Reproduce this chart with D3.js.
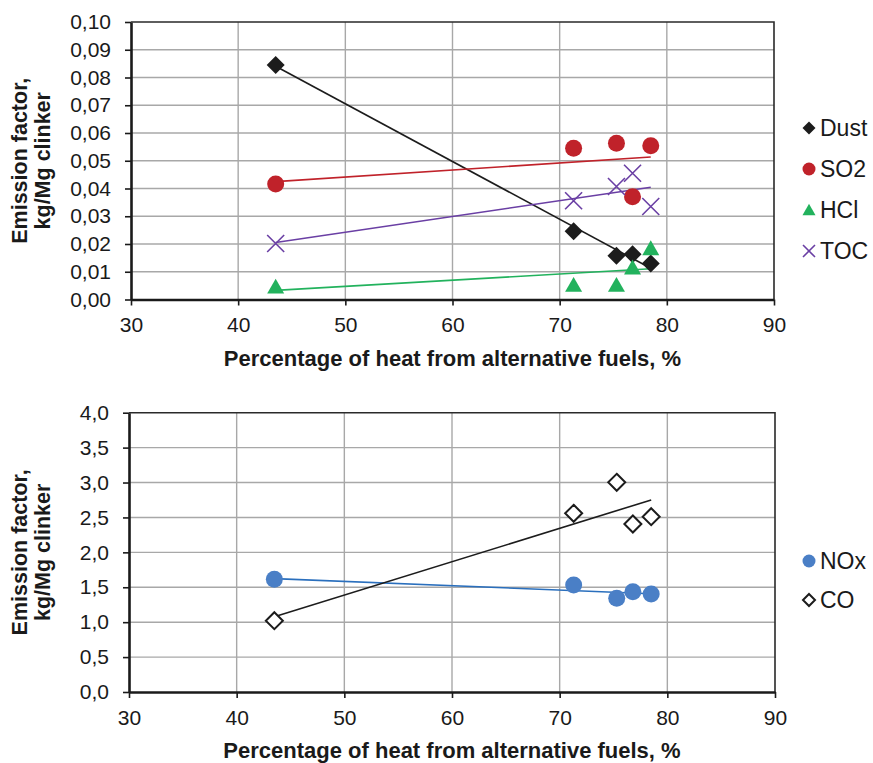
<!DOCTYPE html>
<html>
<head>
<meta charset="utf-8">
<script src="https://cdn.jsdelivr.net/npm/d3@7"></script>
<style>
  body { margin: 0; background: #fff; }
  text { font-family: "Liberation Sans", Arial, sans-serif; fill: #1a1a1a; }
</style>
</head>
<body>
<script>
// share of heat from alternative fuels, % (same five plants in both panels)
var afShare = [43.5, 71.3, 75.3, 76.8, 78.5];

// top panel, kg/Mg clinker
var dust = [0.0845, 0.0246, 0.0158, 0.0163, 0.0130];
var so2 = [0.0416, 0.0545, 0.0563, 0.0370, 0.0554];
var hcl = [0.0046, 0.0052, 0.0052, 0.0115, 0.0184];
var toc = [0.0202, 0.0356, 0.0407, 0.0455, 0.0335];

// bottom panel, kg/Mg clinker
var nox = [1.614, 1.532, 1.342, 1.437, 1.403];
var co = [1.021, 2.559, 3.003, 2.406, 2.511];

// ticks
var xTicks = [30, 40, 50, 60, 70, 80, 90];
var yTicksTop = [0, 0.01, 0.02, 0.03, 0.04, 0.05, 0.06, 0.07, 0.08, 0.09, 0.10];
var yTicksBottom = [0, 0.5, 1, 1.5, 2, 2.5, 3, 3.5, 4];

var xTitle = "Percentage of heat from alternative fuels, %";
var yTitle = ["Emission factor,", "kg/Mg clinker"];

var locale = d3.formatLocale({decimal: ",", thousands: ".", grouping: [3], currency: ["", ""]});

var svg = d3.select("body").append("svg")
  .attr("width", 873)
  .attr("height", 763);

svg.append("rect").attr("width", 873).attr("height", 763).attr("fill", "#fff");

// marker shapes, s = half size
function shape(type, s) {
  if (type == "diamond") return "M0," + (-s) + "L" + s + ",0L0," + s + "L" + (-s) + ",0Z";
  if (type == "circle") return "M" + (-s) + ",0A" + s + "," + s + " 0 1,0 " + s + ",0A" + s + "," + s + " 0 1,0 " + (-s) + ",0Z";
  if (type == "triangle") return "M0," + (-s * 0.95) + "L" + s + "," + (s * 0.8) + "L" + (-s) + "," + (s * 0.8) + "Z";
  if (type == "cross") return "M" + (-s) + "," + (-s) + "L" + s + "," + s + "M" + (-s) + "," + s + "L" + s + "," + (-s);
}

function styleMarker(sel, d) {
  if (d.type == "cross") {
    sel.attr("fill", "none").attr("stroke", d.color).attr("stroke-width", 1.6);
  } else if (d.open) {
    sel.attr("fill", "#fff").attr("stroke", d.color).attr("stroke-width", 2);
  } else {
    sel.attr("fill", d.color).attr("stroke", "none");
  }
}

// least squares fit, drawn from min x to max x like a spreadsheet trendline
function trend(xs, ys) {
  var mx = d3.mean(xs), my = d3.mean(ys);
  var sxy = d3.sum(xs, function(x, i) { return (x - mx) * (ys[i] - my); });
  var sxx = d3.sum(xs, function(x) { return (x - mx) * (x - mx); });
  var b = sxy / sxx, a = my - b * mx;
  var x0 = d3.min(xs), x1 = d3.max(xs);
  return [[x0, a + b * x0], [x1, a + b * x1]];
}

function panel(cfg) {
  var x = d3.scaleLinear().domain([30, 90]).range([cfg.left, cfg.right]);
  var y = d3.scaleLinear().domain(cfg.yDomain).range([cfg.bottom, cfg.top]);
  var g = svg.append("g");

  // grid
  g.selectAll(".hgrid")
    .data(cfg.yTicks.slice(1, -1))
    .enter().append("line")
    .attr("x1", cfg.left).attr("x2", cfg.right)
    .attr("y1", function(d) { return y(d); }).attr("y2", function(d) { return y(d); })
    .attr("stroke", "#a8a8a8").attr("stroke-width", 1.4);

  g.selectAll(".vgrid")
    .data(xTicks.slice(1, -1))
    .enter().append("line")
    .attr("y1", cfg.top).attr("y2", cfg.bottom)
    .attr("x1", function(d) { return x(d); }).attr("x2", function(d) { return x(d); })
    .attr("stroke", "#a8a8a8").attr("stroke-width", 1.4);

  // top and right border
  g.append("path")
    .attr("d", "M" + cfg.left + "," + cfg.top + "H" + cfg.right + "V" + cfg.bottom)
    .attr("fill", "none").attr("stroke", "#2a2a2a").attr("stroke-width", 1.6);

  // axes
  var xAxis = d3.axisBottom(x).tickValues(xTicks).tickSize(6).tickPadding(12).tickSizeOuter(0);
  var yAxis = d3.axisLeft(y).tickValues(cfg.yTicks).tickSize(6).tickPadding(14).tickSizeOuter(0)
    .tickFormat(locale.format(cfg.fmt));

  var xa = g.append("g").attr("transform", "translate(0," + cfg.bottom + ")").call(xAxis);
  var ya = g.append("g").attr("transform", "translate(" + cfg.left + ",0)").call(yAxis);

  [xa, ya].forEach(function(a) {
    a.select(".domain").attr("stroke", "#1a1a1a").attr("stroke-width", 2.6);
    a.selectAll(".tick line").attr("stroke", "#1a1a1a").attr("stroke-width", 1.6);
    a.selectAll(".tick text").attr("fill", "#1a1a1a")
      .style("font-family", "'Liberation Sans', Arial, sans-serif").style("font-size", "21px");
  });

  // x title
  g.append("text")
    .attr("x", (cfg.left + cfg.right) / 2)
    .attr("y", cfg.bottom + 66)
    .attr("text-anchor", "middle")
    .style("font-weight", "bold").style("font-size", "22px")
    .text(xTitle);

  // y title
  var cy = (cfg.top + cfg.bottom) / 2;
  yTitle.forEach(function(t, i) {
    g.append("text")
      .attr("transform", "translate(" + (27 + i * 23) + "," + cy + ") rotate(-90)")
      .attr("text-anchor", "middle")
      .style("font-weight", "bold").style("font-size", "21.5px")
      .text(t);
  });

  // trendlines
  cfg.series.forEach(function(s) {
    var t = trend(afShare, s.values);
    g.append("line")
      .attr("x1", x(t[0][0])).attr("y1", y(t[0][1]))
      .attr("x2", x(t[1][0])).attr("y2", y(t[1][1]))
      .attr("stroke", s.lineColor || s.color).attr("stroke-width", 1.6);
  });

  // markers
  cfg.series.forEach(function(s) {
    g.selectAll(null)
      .data(s.values)
      .enter().append("path")
      .attr("transform", function(d, i) { return "translate(" + x(afShare[i]) + "," + y(d) + ")"; })
      .attr("d", shape(s.type, s.size))
      .call(styleMarker, s);
  });

  // legend
  cfg.series.forEach(function(s, i) {
    var ly = cfg.legendY + i * cfg.legendStep;
    g.append("path")
      .attr("transform", "translate(" + 809 + "," + ly + ")")
      .attr("d", shape(s.type, s.legendSize))
      .call(styleMarker, s);
    g.append("text")
      .attr("x", 820).attr("y", ly)
      .attr("dy", "0.36em")
      .style("font-size", "23px")
      .text(s.name);
  });
}

panel({
  left: 131, right: 774, top: 22, bottom: 299.5,
  yDomain: [0, 0.10], yTicks: yTicksTop, fmt: ".2f",
  legendY: 128, legendStep: 41,
  series: [
    {name: "Dust", values: dust, type: "diamond", color: "#1c1c1c", size: 9, legendSize: 6.5},
    {name: "SO2", values: so2, type: "circle", color: "#c0222a", size: 8.5, legendSize: 6.5},
    {name: "HCl", values: hcl, type: "triangle", color: "#22b25d", size: 8.5, legendSize: 6.5},
    {name: "TOC", values: toc, type: "cross", color: "#6a3fa4", size: 8.5, legendSize: 6}
  ]
});

panel({
  left: 129, right: 775, top: 412.7, bottom: 692,
  yDomain: [0, 4], yTicks: yTicksBottom, fmt: ".1f",
  legendY: 561, legendStep: 39,
  series: [
    {name: "NOx", values: nox, type: "circle", color: "#4a7fc6", lineColor: "#2a6fbd", size: 8.5, legendSize: 6.5},
    {name: "CO", values: co, type: "diamond", open: true, color: "#1c1c1c", size: 8.5, legendSize: 6}
  ]
});
</script>
</body>
</html>
